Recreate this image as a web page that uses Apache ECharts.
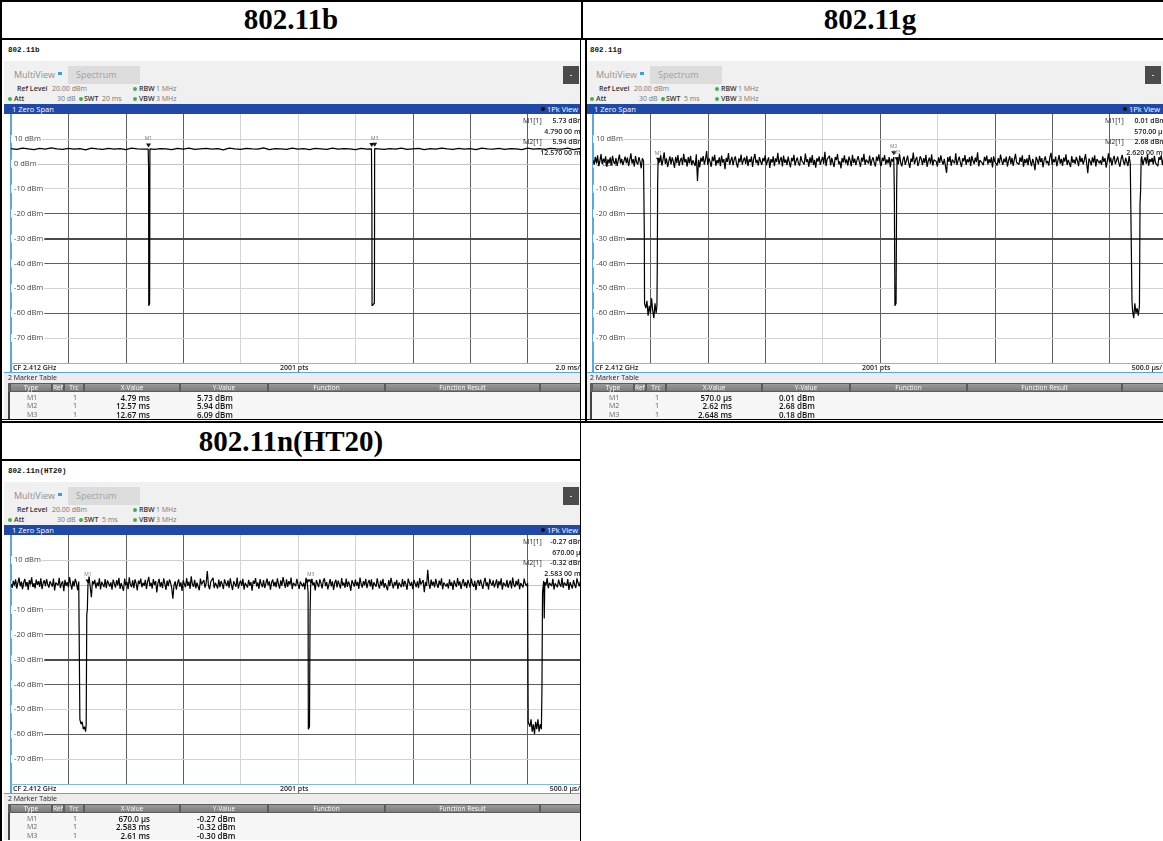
<!DOCTYPE html>
<html>
<head>
<meta charset="utf-8">
<script src="https://cdn.jsdelivr.net/npm/echarts@6/dist/echarts.min.js"></script>
<style>
  body { margin: 0; background: #fff; }
  #page { position: relative; width: 1163px; height: 841px; overflow: hidden; background: #fff; font-family: 'Open Sans', sans-serif; }
  .ln { position: absolute; background: #000; }
  .hd { position: absolute; font-family: 'Liberation Serif', serif; font-weight: bold; font-size: 29px; text-align: center; line-height: 36px; color: #000; }
  .panel { position: absolute; overflow: hidden; background: #fff; }
  .wrap { position: absolute; left: -4px; top: -40px; width: 600px; height: 460px; }
  .t { position: absolute; white-space: nowrap; line-height: 10px; }
  .box { position: absolute; }
</style>
</head>
<body>
<div id="page">
  <div class="hd" style="left:2px;top:1px;width:578px;">802.11b</div>
  <div class="hd" style="left:583px;top:1px;width:574px;">802.11g</div>
  <div class="hd" style="left:2px;top:423px;width:578px;">802.11n(HT20)</div>

  <div class="panel" id="pB" style="left:4px;top:40px;width:576px;height:379px;"></div>
  <div class="panel" id="pG" style="left:586px;top:40px;width:577px;height:379px;"></div>
  <div class="panel" id="pN" style="left:4px;top:461px;width:576px;height:380px;"></div>

  <!-- table rules -->
  <div class="ln" style="left:0;top:0;width:1163px;height:2px;"></div>
  <div class="ln" style="left:0;top:0;width:2px;height:841px;"></div>
  <div class="ln" style="left:0;top:38px;width:1163px;height:2px;"></div>
  <div class="ln" style="left:581px;top:0;width:2px;height:40px;"></div>
  <div class="ln" style="left:580px;top:40px;width:1px;height:801px;"></div>
  <div class="ln" style="left:585px;top:40px;width:2px;height:381px;"></div>
  <div class="ln" style="left:0;top:419px;width:1163px;height:1px;"></div>
  <div class="ln" style="left:0;top:421px;width:1163px;height:2px;"></div>
  <div class="ln" style="left:0;top:459px;width:581px;height:2px;"></div>
</div>

<script>
// ---- 802.11b : SWT 20 ms, trace level every 0.2 ms (dBm)
const bBase = [
  6.1, 5.8, 6.3, 6.0, 5.7, 6.2, 5.9, 6.4, 6.0, 5.8,
  6.2, 5.9, 6.1, 5.6, 6.3, 6.0, 5.8, 6.2, 5.9, 6.1,
  5.7, 6.3, 6.0, 5.9, 6.4, 5.8, 6.1, 6.0, 5.7, 6.2,
  5.9, 6.3, 5.8, 6.0, 6.2, 5.9, 6.1, 5.6, 6.3, 6.0,
  5.8, 6.2, 6.0, 5.9, 6.4, 5.7, 6.1, 6.0, 5.8, 6.3,
  5.9, 6.1, 5.7, 6.2, 6.0, 5.8, 6.3, 5.9, 6.1, 6.0,
  5.7, 6.2, 5.9, 6.4, 6.0, 5.8, 6.1, 5.9, 6.3, 5.8,
  6.0, 6.2, 5.7, 6.1, 5.9, 6.3, 6.0, 5.8, 6.2, 5.9,
  6.1, 5.7, 6.3, 6.0, 5.9, 6.2, 5.8, 6.1, 6.0, 5.7,
  6.3, 5.9, 6.1, 5.8, 6.2, 6.0, 5.9, 6.3, 5.7, 6.1,
  6.0
];
// gaps between bursts: [ms, dBm]
const bDips = [
  [[4.78, 5.9], [4.79, 5.73], [4.795, -2], [4.80, -57], [4.83, -56], [4.835, -30], [4.84, 6.0]],
  [[12.56, 6.0], [12.57, 5.94], [12.575, -19], [12.58, -57], [12.66, -56], [12.665, -45], [12.67, 6.09], [12.68, 6.0]]
];
const bMarkers = [['M1', 4.79, 5.73, true], ['M2', 12.57, 5.94, false], ['M3', 12.67, 6.09, true]];
const bReadout = [['M1[1]', '5.73 dBm'], ['', '4.790 00 ms'], ['M2[1]', '5.94 dBm'], ['', '12.570 00 ms']];
const bTable = [['M1', '1', '4.79 ms', '5.73 dBm'], ['M2', '1', '12.57 ms', '5.94 dBm'], ['M3', '1', '12.67 ms', '6.09 dBm']];

// ---- 802.11g : SWT 5 ms, trace every 0.01 ms (dBm)
const gNoise = [
  1.6, -0.4, 2.8, 0.3, 3.4, -0.9, 1.1, 3.9, -0.2, 2.1,
  0.7, 3.0, -1.2, 1.8, 0.4, 2.6, -0.7, 3.2, 0.9, -0.1,
  2.3, -0.8, 1.4, 3.7, 0.2, 2.0, -0.5, 1.2, 2.9, 0.3,
  2.5, -0.9, 1.6, 4.2, 0.1, 1.9, -1.1, 3.1, 0.6, -0.3,
  2.7, 1.0, -1.8, 2.2, 0.4, 1.5, 3.3, -0.6, 1.5, -2.4,
  2.4, 0.8, 3.6, -0.4, 1.2, 2.9, -1.0, 2.0, 0.5, 3.4,
  -0.7, 1.7, 4.6, 0.0, 2.2, -1.3, 1.0, 3.0, -0.2, 2.6,
  0.9, -1.6, 2.8, 0.3, 3.5, -0.8, 1.3, 2.4, -0.5, 4.0,
  0.6, 1.9, -1.1, 2.7, 0.2, 3.2, -0.6, 1.4, 2.1, -0.9,
  3.8, -6.9, 1.6, -1.4, 2.5, 0.9, 3.1, -0.3, 1.8, 5.1,
  -0.5, 2.3, 0.7, -1.2, 2.9, 1.1, 3.6, -0.8, 1.5, 0.2,
  2.6, -1.0, 3.3, 0.5, 1.9, -2.2, 2.4, 0.8, 4.3, -0.4,
  1.3, 2.8, -0.6, 1.7, 3.0, 0.1, -1.5, 2.2, 0.6, 3.7,
  -0.3, 1.4, 2.5, 0.0, 3.2, -0.9, 1.8, 0.7, 2.9, -1.3,
  2.1, 4.0, 0.3, 1.6, -0.7, 2.7, 0.9, -0.4, 2.3, 1.0,
  3.4, -0.6, 1.2, 2.6, -1.7, 1.9, 0.5, 3.0, -0.9, 2.2,
  0.8, 4.4, -0.2, 1.5, 2.7, -1.1, 3.3, 0.4, 1.7, -0.5,
  2.9, 0.6, -1.4, 2.4, 1.0, 3.6, -0.7, 1.3, 2.5, 0.1,
  -0.8, 3.1, 1.2, 2.0, -0.3, 4.1, 0.7, 1.8, -1.2, 2.6,
  0.3, 3.5, -0.5, 1.6, -1.6, 2.2, 0.9, 3.0, -0.4, 1.4,
  2.8, 0.0, 4.8, -0.9, 1.9, 1.1, 3.2, -0.6, 2.4, 0.5,
  -1.3, 2.7, 1.5, 3.9, -0.2, 1.0, -1.8, 2.3, 0.6, 3.4,
  0.2, 1.8, -0.7, 2.9, 1.3, -1.0, 3.6, 0.4, 2.1, -0.5,
  1.6, 3.1, 0.8, -1.2, 2.5, 0.9, 4.0, -0.4, 1.7, 2.3,
  0.1, 3.3, -0.8, 1.5, 2.6, 0.4, -1.1, 2.9, 1.2, 3.8,
  0.6, -0.9, 2.4, 1.1, 3.5, -0.3, 1.8, 0.2, 2.7, -1.4,
  2.0, 0.9, 3.1, -0.6, 1.4, 2.6, -0.2, 3.9, 0.5, -1.0,
  1.7, 2.9, -0.4, 1.2, 3.3, 0.3, -1.6, 2.1, 0.8, 4.5,
  -0.1, 1.5, 2.8, -0.9, 0.6, 3.0, 1.9, -0.5, 2.3, 0.4,
  3.6, -1.2, 1.1, 2.5, 0.0, 3.8, -0.7, 1.6, 2.2, 0.9,
  -1.1, 2.6, 0.4, 3.4, 1.0, -0.3, 2.0, 1.4, -3.7, 2.7,
  0.8, 3.1, -0.8, 1.7, 2.4, 0.1, 4.2, -0.5, 1.3, 2.9,
  0.5, -1.3, 2.2, 1.0, 3.5, -0.4, 1.8, 0.6, 2.7, -0.9,
  3.2, 1.2, -0.1, 2.5, 0.7, 4.6, -1.0, 1.5, 2.0, 0.3,
  -0.6, 2.8, 1.1, 3.3, -0.2, 1.9, 0.4, 2.6, -1.5, 3.0,
  0.9, 1.6, -0.7, 2.3, 0.2, 3.7, 1.3, -0.4, 2.1, 0.6,
  2.9, -1.1, 1.4, 3.1, 0.0, 2.4, -0.8, 1.7, 4.0, 0.5,
  1.2, -0.3, 2.6, 0.8, 3.4, -1.2, 1.9, 0.3, 2.2, -0.6,
  3.6, 1.0, -0.9, 2.0, 0.4, -2.6, 2.8, 1.5, -0.2, 3.2,
  0.7, 2.3, -1.4, 1.6, 3.0, 0.2, 1.1, -0.7, 2.7, 4.4,
  -0.4, 1.8, 0.6, 2.9, -1.0, 1.3, 3.5, 0.1, 2.0, -0.8,
  2.5, 0.9, 3.8, -0.5, 1.6, 2.2, -1.3, 3.1, 0.4, 1.7,
  0.0, 2.8, 1.2, -0.9, 3.3, 0.7, 2.4, -0.2, 1.5, 3.9,
  0.3, -3.8, 2.1, 1.0, -0.6, 2.6, 0.5, 3.4, -1.1, 1.9,
  2.7, 0.2, 1.4, -0.4, 3.0, 0.8, 2.3, -1.5, 1.1, 4.2,
  0.6, 2.5, -0.7, 1.8, 3.2, -0.1, 1.3, 2.9, 0.4, -1.2,
  2.0, 3.6, 0.9, -0.5, 2.4, 1.6, -0.9, 3.1, 0.2, 1.7,
  2.8, -0.3, 1.0, 3.5, 0.6, -1.4, 2.2, 1.3, 3.0, -0.6,
  1.5, 2.6, 0.1, 3.7, -0.8, 1.9, 0.7, 2.4, -0.2, 3.2,
  0.4, 1.2, -1.0, 2.7, 1.6, 3.4, -0.5, 2.1, 0.8, 2.9,
  1.1
];
const gDips = [
  [[0.44, 1.2], [0.447, -28], [0.449, -56], [0.46, -58], [0.47, -55], [0.48, -61], [0.49, -57], [0.50, -60],
   [0.51, -54], [0.52, -59], [0.53, -62], [0.54, -56], [0.55, -60], [0.557, -57], [0.56, -41], [0.563, -8],
   [0.567, 1.5], [0.57, 0.01]],
  [[2.615, 1.5], [2.62, 2.68], [2.625, -12], [2.63, -57], [2.64, -56], [2.645, -10], [2.648, 0.18]],
  [[4.69, 0.9], [4.695, -55], [4.70, -59], [4.71, -62], [4.72, -56], [4.73, -60], [4.74, -58], [4.75, -61],
   [4.76, -57], [4.765, -16], [4.77, -11], [4.775, 2.1]]
];
const gMarkers = [['M1', 0.57, 0.01, true], ['M2', 2.62, 2.68, true], ['M3', 2.648, 0.18, true]];
const gReadout = [['M1[1]', '0.01 dBm'], ['', '570.00 µs'], ['M2[1]', '2.68 dBm'], ['', '2.620 00 ms']];
const gTable = [['M1', '1', '570.0 µs', '0.01 dBm'], ['M2', '1', '2.62 ms', '2.68 dBm'], ['M3', '1', '2.648 ms', '0.18 dBm']];

// ---- 802.11n(HT20) : SWT 5 ms, trace every 0.01 ms (dBm)
const nNoise = [
  0.4, -1.2, 1.6, -0.3, 2.2, -1.5, 0.8, 2.9, -0.6, 1.3,
  -1.8, 0.9, 2.4, -0.4, 1.1, -2.1, 1.9, 0.2, 3.0, -0.9,
  0.6, -1.4, 2.1, 0.0, 1.5, -0.8, 2.6, -1.7, 0.7, 1.8,
  -0.5, 2.3, 0.1, -1.1, 1.4, 1.2, -0.7, 2.5, -2.3, 0.9,
  1.7, -0.2, 2.8, -1.3, 0.5, 1.4, -2.6, 2.0, -0.4, 1.1,
  -1.0, 3.1, 0.3, -1.9, 1.6, -0.6, 2.4, 0.8, -2.2, 1.3,
  0.0, 2.7, -1.2, 1.0, -0.3, 2.2, -1.6, 0.6, 3.3, -0.8,
  -5.0, 1.5, 0.2, 2.0, -1.4, 0.9, -0.5, 2.6, -1.9, 1.2,
  0.4, -0.9, 2.3, -1.3, 1.7, 0.6, -0.7, 1.0, -2.0, 2.1,
  0.5, -1.1, 1.9, -0.2, 2.8, -1.6, 0.7, 1.4, -2.4, 2.5,
  -0.3, 1.2, -1.8, 3.0, 0.1, -0.9, 1.8, -1.4, 2.2, 0.6,
  -2.3, 1.6, 0.3, 2.5, -1.0, 0.8, -0.4, 2.0, -1.7, 1.3,
  3.2, -0.6, 0.9, -1.5, 2.3, 0.0, 1.5, -3.1, 0.7, 2.4,
  -0.8, 1.1, -1.3, 2.6, 0.4, -2.0, 1.7, -0.5, 2.1, 0.8,
  -1.2, -5.6, -0.1, 1.4, -1.9, 0.6, 2.2, -0.7, 1.0, -2.5,
  1.8, 0.3, -1.0, 2.7, -0.4, 1.3, -1.6, 3.4, 0.2, -0.8,
  2.0, -1.4, 0.9, 1.6, -2.2, 2.5, 0.1, -0.6, 1.9, -1.1,
  0.7, 5.5, -0.3, -1.8, 1.2, 0.4, 2.8, -1.3, 0.8, -0.2,
  -1.5, 2.1, -0.9, 1.5, 0.3, -1.7, 2.2, 0.6, -0.5, 1.8,
  -1.2, 2.6, 0.0, -2.1, 1.4, 0.9, -0.8, 2.9, -1.5, 0.5,
  1.7, -0.4, 2.4, -1.9, 0.8, 1.3, -1.1, 2.0, -0.3, 1.1,
  -2.4, 1.6, 0.4, 2.7, -0.7, 1.0, -1.6, 2.3, 0.2, -0.9,
  1.9, -1.3, 0.6, 2.5, -0.2, 1.4, -2.0, 0.9, 2.1, -0.6,
  1.2, -1.0, 2.6, 0.3, -1.5, 1.8, -0.4, 3.1, 0.7, -1.2,
  2.2, -0.8, 1.5, 0.1, 2.9, -1.7, 0.8, 1.6, -0.5, 2.4,
  0.2, -1.6, 1.3, 2.0, -0.7, 0.9, -1.9, 2.8, 0.5, -0.3,
  1.6, -1.1, 2.4, -0.2, 1.0, -2.3, 1.9, 0.4, -0.9, 2.2,
  0.7, -1.4, 1.5, 2.6, -0.5, 1.1, -1.8, 0.3, 2.3, -0.6,
  1.4, -2.1, 0.8, 2.0, -1.0, 1.7, 0.2, -1.5, 2.7, -0.3,
  0.9, -1.2, 2.5, -0.8, 1.3, 0.0, -2.4, 1.8, 0.6, -0.7,
  2.1, -0.4, 1.2, -1.6, 2.9, 0.3, -1.1, 1.5, -0.2, 2.4,
  -1.3, 0.8, 1.9, -0.6, 2.2, -1.9, 1.0, 0.4, -0.8, 2.6,
  0.1, -1.5, 1.7, -0.3, 2.4, -1.2, 0.7, 1.3, -2.2, 1.9,
  -0.5, 2.8, 0.6, -1.4, 1.1, -0.2, 2.0, -1.7, 0.9, 1.5,
  -1.0, 2.3, -0.7, 1.6, 0.2, -2.0, 2.5, 0.8, -0.4, 1.2,
  -1.8, 2.0, 0.5, -0.9, 1.4, -1.3, 2.7, 0.1, -0.6, 1.9,
  -3.0, 1.1, -0.5, 6.0, 0.4, -1.6, 2.1, -0.3, 1.3, -1.0,
  2.4, 0.2, -1.2, 1.7, -0.1, 2.6, -1.8, 0.9, 1.5, -0.7,
  0.6, -1.5, 2.2, -0.4, 1.0, -2.1, 1.8, 0.3, -0.9, 2.7,
  -0.2, 1.4, -1.7, 0.8, 2.3, -0.6, 1.1, -1.3, 2.0, 0.5,
  -1.1, 2.5, 0.2, -0.8, 1.6, -2.2, 0.9, 1.9, -0.4, 2.1,
  0.3, -1.6, 1.2, 2.8, -0.5, 1.0, -1.9, 2.4, 0.6, -0.3,
  1.8, -1.0, 0.4, 2.2, -1.4, 1.5, -0.1, 2.6, -2.0, 0.9,
  1.3, -0.7, 2.0, -1.2, 0.5, 1.7, -1.5, 2.9, 0.0, -0.9,
  1.6, -0.2, 2.3, -1.8, 0.7, 1.2, -1.1, 2.5, 0.4, -0.5,
  1.9, -1.3, 0.8, 2.1, -0.6, 1.4, -2.3, 1.0, 2.6, -0.4,
  1.1, -1.7, 2.2, 0.3, -0.9, 1.6, -0.2, 2.7, -1.4, 0.8,
  1.5, -0.5, 2.4, -1.9, 0.6, 1.3, -1.0, 2.1, 0.2, -0.8,
  2.8, -1.2, 0.9, 1.7, -0.4, 2.3, -2.1, 1.0, 0.5, -1.5,
  1.9, 0.0, -1.3, 2.6, 0.7, -0.6, 1.5, -1.0, 2.2, 0.3,
  0.6
];
const nDips = [
  [[0.595, 1.0], [0.60, -54], [0.61, -56], [0.62, -55], [0.63, -58], [0.64, -57], [0.65, -59], [0.655, -56],
   [0.66, -12], [0.665, -10], [0.67, -0.27]],
  [[2.583, -0.32], [2.588, -3], [2.59, -58], [2.60, -57], [2.605, -12], [2.61, -0.30]],
  [[4.50, 0.8], [4.505, -55], [4.52, -57], [4.53, -54], [4.54, -59], [4.55, -56], [4.56, -60], [4.57, -55],
   [4.58, -58], [4.59, -54], [4.60, -59], [4.61, -56], [4.62, -58], [4.625, -42], [4.63, -3], [4.64, 1.5],
   [4.645, -13.5], [4.65, 1.0]]
];
const nMarkers = [['M1', 0.67, -0.27, true], ['M2', 2.583, -0.32, false], ['M3', 2.61, -0.30, true]];
const nReadout = [['M1[1]', '-0.27 dBm'], ['', '670.00 µs'], ['M2[1]', '-0.32 dBm'], ['', '2.583 00 ms']];
const nTable = [['M1', '1', '670.0 µs', '-0.27 dBm'], ['M2', '1', '2.583 ms', '-0.32 dBm'], ['M3', '1', '2.61 ms', '-0.30 dBm']];

const yTicks = [20, 10, 0, -10, -20, -30, -40, -50, -60, -70, -80];
const tableCols = [['Type', 10, 52], ['Ref', 52, 64], ['Trc', 64, 84], ['X-Value', 84, 180],
                   ['Y-Value', 180, 268], ['Function', 268, 385], ['Function Result', 385, 540], ['', 540, 620]];

// merge the sampled trace with the hand-read gaps
function buildTrace(levels, span, dips) {
  const step = span / (levels.length - 1);
  let pts = levels.map((v, i) => [i * step, v]);
  dips.forEach(d => {
    const a = d[0][0], b = d[d.length - 1][0];
    pts = pts.filter(p => p[0] < a || p[0] > b).concat(d);
  });
  return pts.sort((p, q) => p[0] - q[0]);
}

function txt(s, x, y, css) {
  return `<div class="t" style="left:${x}px;top:${y}px;${css || ''}">${s}</div>`;
}
function box(x, y, w, h, css) {
  return `<div class="box" style="left:${x}px;top:${y}px;width:${w}px;height:${h}px;${css}"></div>`;
}
const dot = (x, y) => box(x, y, 4, 4, 'background:#3cb44b;border-radius:50%;');

function buildPanel(id, cfg) {
  const host = document.getElementById(id);
  let h = '';
  h += txt(cfg.tag, 8, 45, "font-family:'Liberation Mono',monospace;font-weight:bold;font-size:7.5px;color:#111;");
  h += box(4, 61, 600, 43, 'background:#f0f0f0;');
  h += txt('MultiView', 14, 70, 'font-size:9px;color:#8e8e8e;');
  h += box(58, 72, 4, 3, 'background:#3c9fe2;');
  h += box(68, 66, 72, 18, 'background:#dcdcdc;');
  h += txt('Spectrum', 76, 70, 'font-size:9px;color:#a2a2a2;');
  h += box(563, 66, 16, 18, 'background:#4b4b4b;');
  h += box(570, 75, 2, 1, 'background:#ddd;');
  h += txt('Ref Level', 17, 84, 'font-size:7px;color:#333;font-weight:600;');
  h += txt('20.00 dBm', 52, 84, 'font-size:7px;color:#777;');
  h += dot(133, 87) + txt('RBW', 139, 84, 'font-size:7px;color:#333;font-weight:600;');
  h += txt('1 MHz', 156, 84, 'font-size:7px;color:#777;');
  h += dot(8, 97) + txt('Att', 14, 94, 'font-size:7px;color:#333;font-weight:600;');
  h += txt('30 dB', 57, 94, 'font-size:7px;color:#777;');
  h += dot(79, 97) + txt('SWT', 84, 94, 'font-size:7px;color:#333;font-weight:600;');
  h += txt(cfg.swt, 102, 94, 'font-size:7px;color:#777;');
  h += dot(133, 97) + txt('VBW', 139, 94, 'font-size:7px;color:#333;font-weight:600;');
  h += txt('3 MHz', 156, 94, 'font-size:7px;color:#777;');
  // title bar
  h += box(4, 104, 600, 10, 'background:#2048a6;');
  h += txt('1 Zero Span', 12, 104, 'font-size:7.5px;color:#fff;');
  h += box(541, 107, 4, 4, 'background:#111;border-radius:50%;');
  h += txt('1Pk View', 547, 104, 'font-size:7.5px;color:#fff;');
  // plot frame + chart host
  h += box(10, 114, 2, 259, 'background:#56a8e4;');
  h += `<div class="box" id="${id}c" style="left:11px;top:114px;width:574px;height:249px;"></div>`;
  h += box(11, 363, 590, 1, 'background:#7fb9e6;');
  h += txt('CF 2.412 GHz', 13, 363, 'font-size:7px;color:#222;font-weight:600;');
  h += txt('2001 pts', 280, 363, 'font-size:7px;color:#222;font-weight:600;');
  h += `<div class="t" style="left:480px;top:363px;width:100px;text-align:right;font-size:7px;color:#222;font-weight:600;">${cfg.div}</div>`;
  h += box(4, 372, 600, 1, 'background:#56a8e4;');
  // marker table
  h += box(4, 373, 600, 46, 'background:#ececec;');
  h += txt('2 Marker Table', 8, 373, 'font-size:7px;color:#222;');
  h += box(8, 383, 600, 36, 'background:#f6f6f6;border-left:2px solid #444;');
  h += box(8, 383, 600, 9, 'background:#5c5c5c;');
  tableCols.forEach(c => {
    h += box(c[1] + 1, 384, c[2] - c[1] - 2, 7, 'background:linear-gradient(#9a9a9a,#7c7c7c);');
    h += `<div class="t" style="left:${c[1]}px;top:383px;width:${c[2] - c[1]}px;text-align:center;font-size:6.5px;color:#fff;">${c[0]}</div>`;
  });
  cfg.table.forEach((r, i) => {
    const y = 393 + i * 8.3;
    h += txt(r[0], 27, y, 'font-size:7px;color:#666;');
    h += txt(r[1], 73, y, 'font-size:7px;color:#555;');
    h += `<div class="t" style="left:90px;top:${y}px;width:60px;text-align:right;font-size:8px;color:#111;font-weight:600;">${r[2]}</div>`;
    h += txt(r[3], 197, y, 'font-size:8px;color:#111;font-weight:600;');
  });
  host.innerHTML = `<div class="wrap">${h}</div>`;

  const chart = echarts.init(document.getElementById(id + 'c'), null, { renderer: 'canvas' });
  const grid = [];
  for (let k = 1; k < 10; k++) {
    grid.push({ xAxis: k * cfg.interval, lineStyle: { color: cfg.vLight.includes(k) ? '#d4d4d4' : '#5e5e5e', width: 1, type: 'solid' } });
  }
  const hStyle = { 10: '#cfcfcf', 0: '#c4c4c4', '-10': '#d4d4d4', '-20': '#5e5e5e', '-30': '#4a4a4a',
                   '-40': '#5e5e5e', '-50': '#d4d4d4', '-60': '#5e5e5e', '-70': '#d4d4d4', '-80': '#8fb6d8' };
  yTicks.slice(1).forEach(v => {
    grid.push({ yAxis: v, lineStyle: { color: hStyle[v], width: v === -30 ? 2 : 1, type: 'solid' } });
  });
  const marks = cfg.markers.map(m => ({
    coord: [m[1], m[2]],
    label: { show: m[3], formatter: m[0] }
  }));
  const readout = [];
  cfg.readout.forEach((r, i) => {
    const y = 7 + i * 10.7;
    if (r[0]) readout.push({ type: 'text', zlevel: 2, x: 512, y: y, style: { text: r[0], font: '7px "Open Sans"', fill: '#222', verticalAlign: 'middle' } });
    readout.push({ type: 'text', zlevel: 2, x: 573, y: y, style: { text: r[1], font: '600 7px "Open Sans"', fill: '#222', align: 'right', verticalAlign: 'middle' } });
  });

  chart.setOption({
    animation: false,
    grid: { left: 0, right: 0, top: 0, bottom: 0, containLabel: false, outerBoundsMode: 'none' },
    xAxis: {
      type: 'value', min: 0, max: cfg.span, interval: cfg.interval,
      axisLine: { show: false }, axisTick: { show: false }, axisLabel: { show: false }, splitLine: { show: false }
    },
    yAxis: {
      type: 'value', min: -80, max: 20, interval: 10, zlevel: 1,
      axisLine: { show: false }, axisTick: { show: false }, splitLine: { show: false },
      axisLabel: {
        inside: true, margin: 0, fontSize: 7.5, color: '#444', fontFamily: 'Open Sans',
        backgroundColor: '#fff', padding: [0, 1, 0, 3],
        formatter: v => (v === 20 || v === -80) ? '' : v + ' dBm'
      }
    },
    graphic: readout,
    series: [
      {
        type: 'line', data: [], zlevel: 0, silent: true,
        markLine: { silent: true, symbol: ['none', 'none'], label: { show: false }, data: grid }
      },
      {
        type: 'line', data: cfg.data, zlevel: 2, showSymbol: false, silent: true,
        lineStyle: { color: '#000', width: 1.2 },
        markPoint: {
          symbol: 'triangle', symbolRotate: 180, symbolSize: [5, 4], symbolOffset: [0, -4],
          itemStyle: { color: '#111' },
          label: { position: 'top', distance: 2, fontSize: 5, color: '#777', fontFamily: 'Open Sans' },
          data: marks
        }
      }
    ]
  });
}

buildPanel('pB', {
  tag: '802.11b', swt: '20 ms', div: '2.0 ms/', span: 20, interval: 2, vLight: [4, 5, 6],
  data: buildTrace(bBase, 20, bDips), markers: bMarkers, readout: bReadout, table: bTable
});
buildPanel('pG', {
  tag: '802.11g', swt: '5 ms', div: '500.0 µs/', span: 5, interval: 0.5, vLight: [4, 6],
  data: buildTrace(gNoise, 5, gDips), markers: gMarkers, readout: gReadout, table: gTable
});
buildPanel('pN', {
  tag: '802.11n(HT20)', swt: '5 ms', div: '500.0 µs/', span: 5, interval: 0.5, vLight: [4, 5, 6],
  data: buildTrace(nNoise, 5, nDips), markers: nMarkers, readout: nReadout, table: nTable
});
</script>
</body>
</html>
